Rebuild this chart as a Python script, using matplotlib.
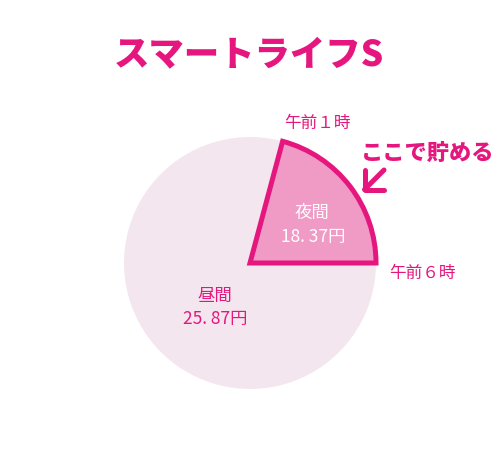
import matplotlib.pyplot as plt

plt.rcParams['font.family'] = ['Noto Sans CJK JP', 'DejaVu Sans']

# hours in each band: night (1am-6am) and day
hours = [5, 19]
band_names = ['夜間', '昼間']
band_prices = ['18. 37円', '25. 87円']
time_labels = ['午前１時', '午前６時']

magenta = '#e5177f'
night_fill = '#ef9bc5'
day_fill = '#f4e6ee'

fig = plt.figure(figsize=(5.0, 4.51), dpi=100)
ax = fig.add_axes([0, 0, 1, 1])

cx, cy, r = 250, 188, 126

# day slice sits under the outlined night slice
wedges, _ = ax.pie(hours, startangle=0, counterclock=True, center=(cx, cy),
                   radius=r, colors=[night_fill, day_fill], frame=True)
wedges[1].set_zorder(1)
wedges[0].set_zorder(2)
wedges[0].set_edgecolor(magenta)
wedges[0].set_linewidth(3.6)
wedges[0].set_joinstyle('miter')
ax.set_xlim(0, 500)
ax.set_ylim(0, 451)
ax.set_aspect('equal')
ax.axis('off')

ax.text(249, 451 - 55, 'スマートライフS', color=magenta, fontsize=25.5,
        fontweight='heavy', ha='center', va='center')

# labels inside slices
ax.text(312, 451 - 213, band_names[0], color='white', fontsize=12.5, ha='center', va='center')
ax.text(313, 451 - 237, band_prices[0], color='white', fontsize=12.5, ha='center', va='center')
ax.text(215, 451 - 296, band_names[1], color=magenta, fontsize=12.5, ha='center', va='center')
ax.text(215, 451 - 319, band_prices[1], color=magenta, fontsize=12.5, ha='center', va='center')

# time labels at slice edges
ax.text(317, 451 - 123, time_labels[0], color=magenta, fontsize=12, ha='center', va='center')
ax.text(422, 451 - 273, time_labels[1], color=magenta, fontsize=12, ha='center', va='center')

ax.text(428, 451 - 153, 'ここで貯める', color=magenta, fontsize=16,
        fontweight='heavy', ha='center', va='center')
ax.annotate('', xy=(362, 451 - 192), xytext=(384, 451 - 170),
            arrowprops=dict(arrowstyle='->,head_length=1.0,head_width=1.0',
                            color=magenta, lw=3.6, shrinkA=0, shrinkB=0))

fig.savefig('out.png', dpi=100, facecolor='white')
